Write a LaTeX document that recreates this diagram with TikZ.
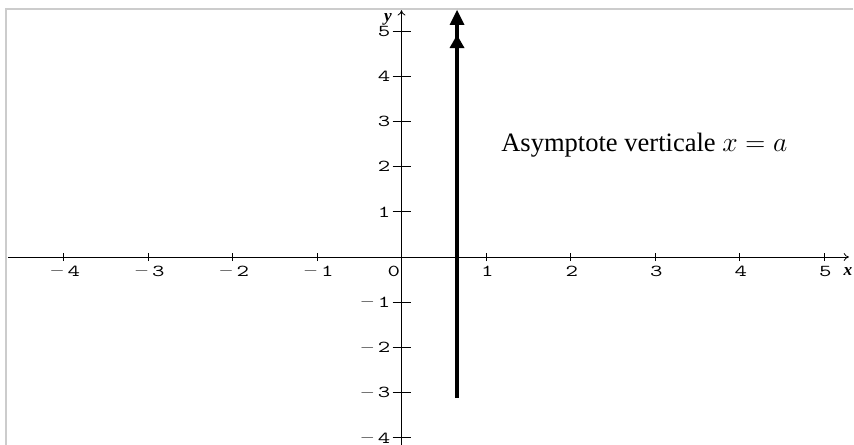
\documentclass[tikz,border=0pt]{standalone}
\usepackage{fontspec}
\newfontfamily\serifLib{Liberation Serif}
\usetikzlibrary{arrows.meta}
\newcommand\mymn{\raisebox{1.2pt}{\fontsize{10}{10}\selectfont$-$}\hspace{1.5pt}}
\newcommand\mytl[1]{\scalebox{1.45}[1]{#1}}
\tikzset{
  axisline/.style={line width=0.6pt, black},
  ticklabel/.style={font=\ttfamily\fontsize{12.5}{14}\selectfont, inner sep=0pt},
  axislabel/.style={font=\serifLib\fontsize{13}{14}\selectfont\bfseries\itshape, inner sep=0pt},
  frameline/.style={line width=1.5pt, gray!40},
  asym/.style={line width=3pt, black},
  tipfill/.style={fill=black, draw=none}
}
\begin{document}
\begin{tikzpicture}[x=63.375pt,y=33.9pt]
\useasboundingbox (-4.7515,-4.137) rectangle (5.355,5.686);
% frame
\draw[frameline] (-4.675,-4.2) -- (-4.675,5.487) -- (5.34,5.487);
% axes
\coordinate (xs) at (-4.657,0);
\coordinate (xe) at (5.296,0);
\coordinate (ys) at (0,-4.2);
\coordinate (ye) at (0,5.46);
\draw[axisline,-{To[length=4pt,width=6pt]}] (xs) -- (xe);
\draw[axisline,-{To[length=4pt,width=6pt]}] (ys) -- (ye);
\node[axislabel] (xl) at (5.284,-0.33) {x};
\node[axislabel] (yl) at (-0.16,5.265) {y};
% x ticks
\foreach \i/\t in {-4/\mymn4,-3/\mymn3,-2/\mymn2,-1/\mymn1,1/1,2/2,3/3,4/4,5/5}{
  \draw[line width=0.5pt] (\i,-0.09) -- (\i,0.09);
  \node[ticklabel] (xt\i) at (\i+0.015,-0.31) {\mytl{\t}};
}
% y ticks
\foreach \i/\t in {-4/\mymn4,-3/\mymn3,-2/\mymn2,-1/\mymn1,1/1,2/2,3/3,4/4,5/5}{
  \draw[line width=0.5pt] (-0.105,\i) -- (0.115,\i);
  \node[ticklabel,anchor=east] (yt\i) at (-0.13,\i) {\mytl{\t}};
}
\node[ticklabel] (o) at (-0.09,-0.31) {\mytl{0}};
% asymptote
\coordinate (ab) at (0.657,-3.12);
\coordinate (at) at (0.657,5.2);
\draw[asym] (ab) -- (at);
\fill[tipfill] (0.657,5.465) -- (0.657-0.0888,5.133) -- (0.657+0.0888,5.133) -- cycle;
\fill[tipfill] (0.657,4.912) -- (0.657-0.0888,4.624) -- (0.657+0.0888,4.624) -- cycle;
\node[font=\serifLib\fontsize{19.9}{22}\selectfont, inner sep=0pt, anchor=base west] (lab) at (1.178,2.33) {Asymptote verticale $x = a$};
\end{tikzpicture}
\end{document}
